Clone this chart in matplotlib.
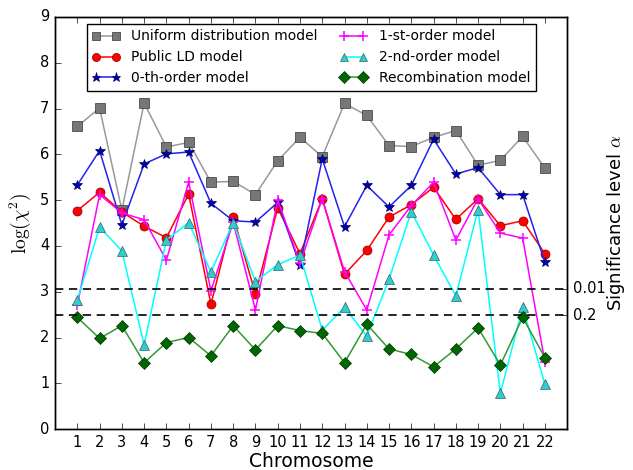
import matplotlib
matplotlib.use("Agg")
import matplotlib.pyplot as plt
import numpy as np

# chi-square test statistic (log scale) for each chromosome and model
chromosomes = np.arange(1, 23)

uniform = [6.61, 7.01, 4.78, 7.12, 6.16, 6.26, 5.39, 5.41, 5.12, 5.86, 6.37,
           5.95, 7.11, 6.85, 6.19, 6.17, 6.37, 6.52, 5.76, 5.87, 6.39, 5.70]
public_ld = [4.77, 5.17, 4.74, 4.43, 4.18, 5.13, 2.73, 4.64, 2.95, 4.83, 3.83,
             5.03, 3.38, 3.90, 4.63, 4.90, 5.28, 4.58, 5.03, 4.44, 4.55, 3.83]
order0 = [5.33, 6.08, 4.46, 5.79, 6.01, 6.05, 4.93, 4.55, 4.52, 4.95, 3.58,
          5.90, 4.42, 5.32, 4.85, 5.32, 6.33, 5.57, 5.71, 5.12, 5.12, 3.64]
order1 = [2.71, 5.12, 4.72, 4.57, 3.69, 5.39, 3.02, 4.52, 2.60, 5.01, 3.62,
          5.03, 3.44, 2.60, 4.24, 4.88, 5.39, 4.13, 5.03, 4.28, 4.17, 1.47]
order2 = [2.82, 4.41, 3.89, 1.84, 4.13, 4.51, 3.43, 4.51, 3.22, 3.59, 3.80,
          2.16, 2.66, 2.03, 3.27, 4.75, 3.80, 2.91, 4.79, 0.78, 2.66, 0.98]
recombination = [2.44, 1.98, 2.26, 1.45, 1.89, 2.00, 1.60, 2.26, 1.73, 2.26, 2.15,
                 2.09, 1.45, 2.29, 1.75, 1.63, 1.36, 1.75, 2.21, 1.40, 2.44, 1.56]

# significance thresholds
alpha_levels = ["0.01", "0.2"]
alpha_values = [3.07, 2.49]

plt.style.use("classic")
plt.rcParams["figure.facecolor"] = "white"
plt.rcParams["savefig.facecolor"] = "white"
plt.rcParams["xtick.labelsize"] = 10.5
plt.rcParams["ytick.labelsize"] = 10.5

fig = plt.figure(figsize=(6.33, 4.70), dpi=100)
ax = fig.add_axes([0.087, 0.087, 0.809, 0.877])

ax.plot(chromosomes, uniform, "-s", color="#999999", mfc="#777777", mec="#333333",
        ms=6.5, lw=1.1, label="Uniform distribution model")
ax.plot(chromosomes, public_ld, "-o", color="red", mfc="red", mec="#880000",
        ms=6.5, lw=1.1, label="Public LD model")
ax.plot(chromosomes, order0, "-*", color="#2222ee", mfc="#0000aa", mec="#000066",
        ms=7.5, lw=1.1, label="0-th-order model")
ax.plot(chromosomes, order1, "-+", color="magenta", mec="magenta",
        ms=7.5, mew=1.1, lw=1.1, label="1-st-order model")
ax.plot(chromosomes, order2, "-^", color="cyan", mfc="#33cccc", mec="#336666",
        ms=6.5, lw=1.1, label="2-nd-order model")
ax.plot(chromosomes, recombination, "-D", color="#339933", mfc="#006600", mec="#003300",
        ms=6.5, lw=1.1, label="Recombination model")

for v in alpha_values:
    ax.axhline(v, color="black", ls="--", lw=1.2, dashes=(6, 4))

ax.set_xlim(0, 23)
ax.set_ylim(0, 9)
ax.set_xticks(chromosomes)
ax.set_yticks(range(0, 10))
ax.set_xlabel("Chromosome", fontsize=13.5, labelpad=2)
ax.set_ylabel(r"$\log(\chi^2)$", fontsize=14)

ax.legend(loc="upper center", ncol=2, fontsize=10, numpoints=2,
          handlelength=2.0, columnspacing=1.6, borderaxespad=0.5,
          markerscale=0.9)

ax2 = ax.twinx()
ax2.set_ylim(0, 9)
ax2.set_yticks(alpha_values)
ax2.set_yticklabels(alpha_levels)
ax2.set_ylabel(r"Significance level $\alpha$", fontsize=13, labelpad=0)

fig.savefig("out.png", dpi=100)
